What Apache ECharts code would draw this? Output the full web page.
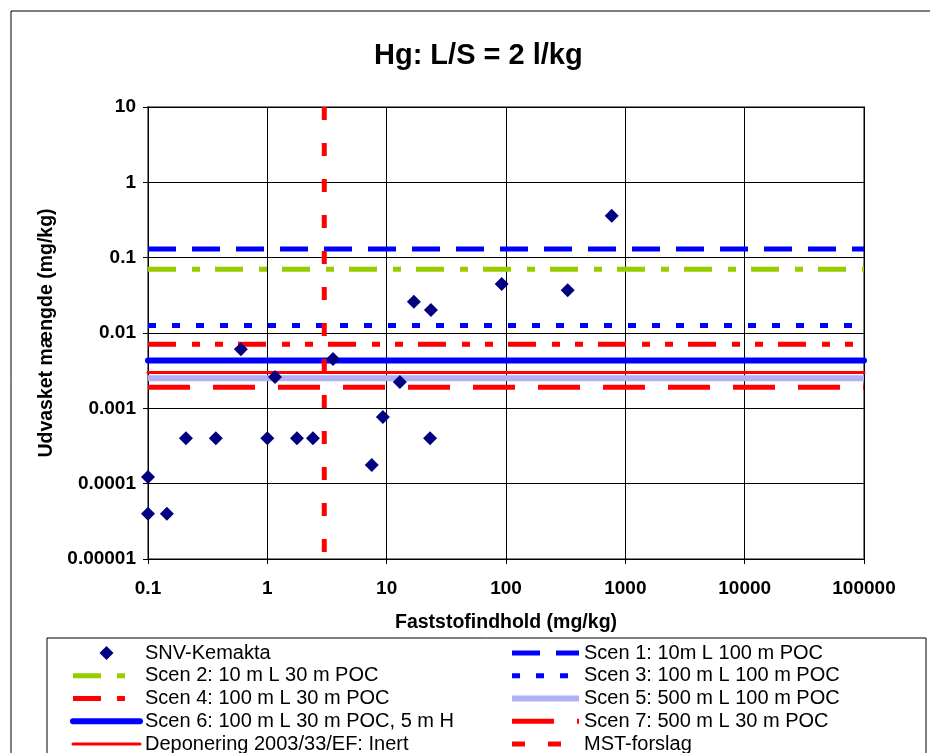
<!DOCTYPE html>
<html>
<head>
<meta charset="utf-8">
<script src="https://cdn.jsdelivr.net/npm/echarts@6/dist/echarts.min.js"></script>
<style>
  html, body { margin: 0; padding: 0; background: #fff; }
  #chart { width: 930px; height: 753px; }
</style>
</head>
<body>
<div id="chart"></div>
<script>
// punkter: faststofindhold (mg/kg), udvasket mængde (mg/kg)
var snvX = [0.1, 0.1, 0.144, 0.208, 0.37, 0.6, 1.0, 1.16, 1.77, 2.41, 3.55, 7.5, 9.3, 12.9, 16.9, 23.1, 23.5, 92, 329, 769];
var snvY = [0.000123, 0.00004, 0.00004, 0.0004, 0.0004, 0.0061, 0.0004, 0.0026, 0.0004, 0.0004, 0.0045, 0.000177, 0.00077, 0.00224, 0.026, 0.0004, 0.0202, 0.0447, 0.0368, 0.36];

// scenarie-niveauer (vandrette linjer)
var scenNames = ['Scen 1: 10m L 100 m POC', 'Scen 2: 10 m L 30 m POC', 'Scen 3: 100 m L 100 m POC',
  'Scen 4: 100 m L 30 m POC', 'Scen 5: 500 m L 100 m POC', 'Scen 6: 100 m L 30 m POC, 5 m H',
  'Scen 7: 500 m L 30 m POC', 'Deponering 2003/33/EF: Inert'];
var scenLevels = [0.13, 0.07, 0.0126, 0.0071, 0.0025, 0.0043, 0.0019, 0.003];
var mstLevel = 3; // MST-forslag, lodret linje

var xTickLabels = ['0.1', '1', '10', '100', '1000', '10000', '100000'];
var yTickLabels = ['0.00001', '0.0001', '0.001', '0.01', '0.1', '1', '10'];
var xRange = [0.1, 100000];
var yRange = [0.00001, 10];

// linjestile pr. scenarie
var scenStyles = [
  { color: '#0000FF', width: 5, type: [28, 16] },
  { color: '#99CC00', width: 5, type: [28, 16, 8, 15] },
  { color: '#0000FF', width: 5, type: [8, 16] },
  { color: '#FF0000', width: 5, type: [28, 16, 8, 15, 8, 15] },
  { color: '#B0B0F4', width: 6, type: 'solid' },
  { color: '#0000FF', width: 6, type: 'solid', cap: 'round' },
  { color: '#FF0000', width: 5, type: [42, 23] },
  { color: '#FF0000', width: 3, type: 'solid', cap: 'round' }
];
var mstStyle = { color: '#FF0000', width: 5, type: [13, 23] };

var font = 'Liberation Sans, Arial, sans-serif';
var chart = echarts.init(document.getElementById('chart'));

var series = [];
var zOrder = [2, 2, 2, 2, 1, 3, 2, 2];
for (var i = 0; i < scenNames.length; i++) {
  series.push({
    name: scenNames[i],
    type: 'line',
    symbol: 'none',
    silent: true,
    z: zOrder[i],
    data: [[xRange[0], scenLevels[i]], [xRange[1], scenLevels[i]]],
    lineStyle: scenStyles[i],
    itemStyle: { color: scenStyles[i].color }
  });
}
series.push({
  name: 'MST-forslag',
  type: 'line',
  symbol: 'none',
  silent: true,
  z: 4,
  data: [[mstLevel, yRange[1]], [mstLevel, yRange[0]]],
  lineStyle: mstStyle,
  itemStyle: { color: '#FF0000' }
});
series.push({
  name: 'SNV-Kemakta',
  type: 'scatter',
  symbol: 'diamond',
  symbolSize: 14,
  z: 5,
  itemStyle: { color: '#000080', opacity: 1 },
  data: snvX.map(function(x, k) { return [x, snvY[k]]; })
});

// legendepunkter: linje uden symbol, med seriens bredde
function lineItem(name, st) {
  return {
    name: name,
    itemStyle: { opacity: 0 },
    lineStyle: { width: st.width, type: st.type, color: st.color, cap: st.cap || 'butt' }
  };
}
var snvItem = { name: 'SNV-Kemakta', icon: 'path://M0,-1L1,0L0,1L-1,0Z', itemStyle: { color: '#000080', opacity: 1 } };

var legendText = { fontFamily: font, fontSize: 20, lineHeight: 20, color: '#000' };
var labelFont = { fontFamily: font, fontSize: 19, fontWeight: 'bold', color: '#000' };
var nameFont = { fontFamily: font, fontSize: 19.5, fontWeight: 'bold', color: '#000' };

var option = {
  animation: false,
  backgroundColor: '#fff',
  title: {
    text: 'Hg: L/S = 2 l/kg',
    left: 369,
    top: 36,
    textStyle: { fontFamily: font, fontSize: 29, fontWeight: 'bold', color: '#000' }
  },
  grid: { left: 148, right: 66, top: 107, bottom: 194, show: true, borderColor: '#808080', borderWidth: 2, containLabel: false },
  xAxis: {
    type: 'log',
    logBase: 10,
    min: xRange[0],
    max: xRange[1],
    name: 'Faststofindhold (mg/kg)',
    nameLocation: 'middle',
    nameGap: 54,
    nameTextStyle: nameFont,
    axisLine: { lineStyle: { color: '#000', width: 1 } },
    axisTick: { length: 5, lineStyle: { color: '#000' } },
    minorTick: { show: false },
    axisLabel: Object.assign({
      margin: 20,
      formatter: function(v) { return xTickLabels[Math.round(Math.log10(v)) + 1]; }
    }, labelFont),
    splitLine: { show: true, lineStyle: { color: '#000', width: 1 } }
  },
  yAxis: {
    type: 'log',
    logBase: 10,
    min: yRange[0],
    max: yRange[1],
    name: 'Udvasket mængde (mg/kg)',
    nameLocation: 'middle',
    nameGap: 87,
    nameTextStyle: nameFont,
    axisLine: { lineStyle: { color: '#000', width: 1 } },
    axisTick: { length: 5, lineStyle: { color: '#000' } },
    axisLabel: Object.assign({
      margin: 12,
      formatter: function(v) { return yTickLabels[Math.round(Math.log10(v)) + 5]; }
    }, labelFont),
    splitLine: { show: true, lineStyle: { color: '#000', width: 1 } }
  },
  legend: [{
    orient: 'vertical',
    left: 65,
    top: 638,
    width: 420,
    height: 200,
    itemWidth: 67,
    itemHeight: 14,
    itemGap: 2.75,
    textStyle: legendText,
    data: [snvItem, lineItem(scenNames[1], scenStyles[1]), lineItem(scenNames[3], scenStyles[3]),
      lineItem(scenNames[5], scenStyles[5]), lineItem(scenNames[7], scenStyles[7])]
  }, {
    orient: 'vertical',
    left: 504,
    top: 638,
    width: 400,
    height: 200,
    itemWidth: 67,
    itemHeight: 14,
    itemGap: 2.75,
    textStyle: legendText,
    data: [lineItem(scenNames[0], scenStyles[0]), lineItem(scenNames[2], scenStyles[2]),
      lineItem(scenNames[4], scenStyles[4]), lineItem(scenNames[6], scenStyles[6]),
      lineItem('MST-forslag', mstStyle)]
  }],
  graphic: [{
    type: 'rect',
    silent: true,
    shape: { x: 11, y: 11, width: 950, height: 780 },
    style: { fill: 'none', stroke: '#000', lineWidth: 1 }
  }, {
    type: 'rect',
    silent: true,
    shape: { x: 47, y: 638, width: 879, height: 140 },
    style: { fill: 'none', stroke: '#000', lineWidth: 1 }
  }],
  series: series
};

chart.setOption(option);
</script>
</body>
</html>
